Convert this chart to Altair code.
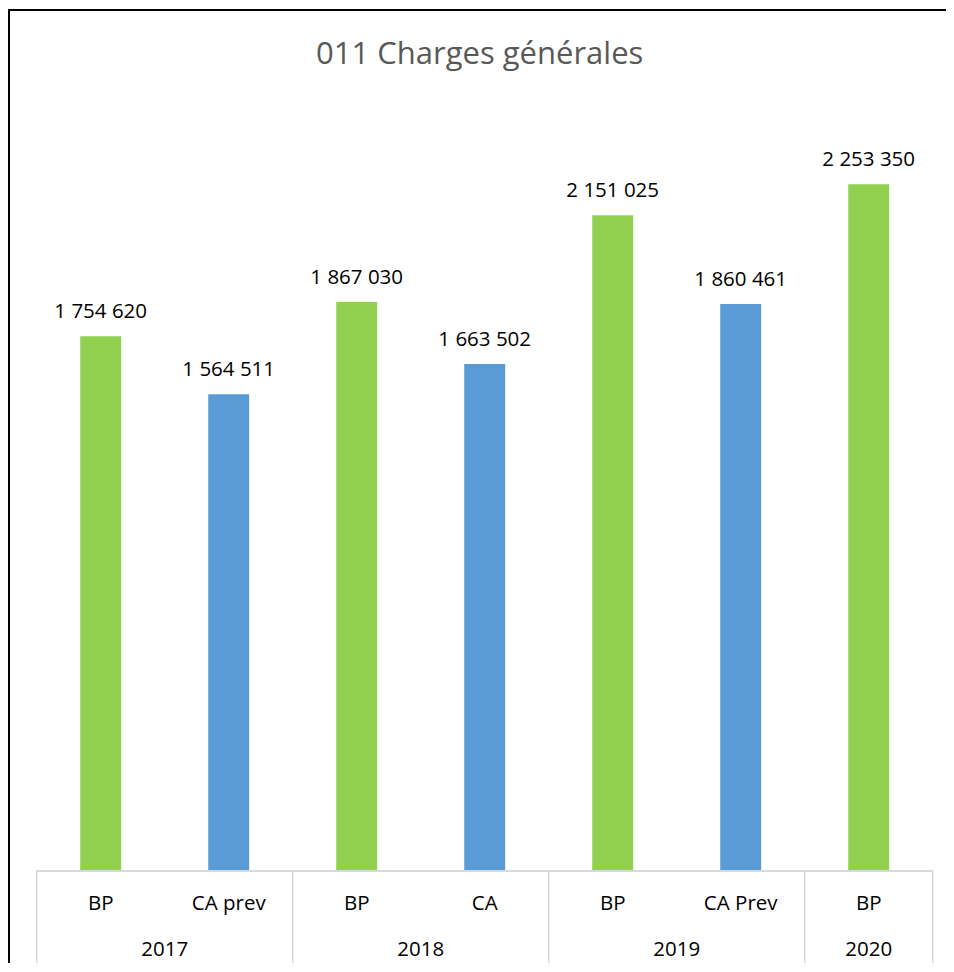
import altair as alt
import pandas as pd

# ---- data ----
categories = ["BP", "CA prev", "BP", "CA", "BP", "CA Prev", "BP"]
years = ["2017", "2017", "2018", "2018", "2019", "2019", "2020"]
kinds = ["BP", "CA", "BP", "CA", "BP", "CA", "BP"]
values = [1754620, 1564511, 1867030, 1663502, 2151025, 1860461, 2253350]
title_text = "011 Charges générales"

n = len(categories)
df = pd.DataFrame({
    "key": [f"k{i}" for i in range(n)],
    "cat": categories,
    "year": years,
    "kind": kinds,
    "value": values,
    "label": [f"{v:,}".replace(",", " ") for v in values],
})

# year groups (start / end index along the category axis)
grp_rows = []
for y in dict.fromkeys(years):
    idx = [i for i, yy in enumerate(years) if yy == y]
    grp_rows.append({"year": y, "start": min(idx), "end": max(idx) + 1,
                     "mid": (min(idx) + max(idx) + 1) / 2})
groups = pd.DataFrame(grp_rows)
dividers = pd.DataFrame({"pos": list(groups["start"]) + [n]})

W, H = 896, 762
FONT = "Open Sans"

band_x = alt.X("key:N", sort=list(df["key"]),
               scale=alt.Scale(paddingInner=0.68, paddingOuter=0.34), axis=None)
lin_x_scale = alt.Scale(domain=[0, n], nice=False, zero=False)
y_enc = alt.Y("value:Q", scale=alt.Scale(domain=[0, 2500000], nice=False), axis=None)

bars = alt.Chart(df).mark_bar().encode(
    x=band_x, y=y_enc,
    color=alt.Color("kind:N", scale=alt.Scale(domain=["BP", "CA"],
                                              range=["#92D050", "#5B9BD5"]),
                    legend=None),
)

vlabels = alt.Chart(df).mark_text(font=FONT, fontSize=20.5, color="#000000",
                                  baseline="alphabetic", dy=-18).encode(
    x=band_x, y=y_enc, text="label:N")

sublabels = alt.Chart(df).mark_text(font=FONT, fontSize=20.5, color="#000000",
                                    baseline="alphabetic").encode(
    x=band_x, y=alt.value(801), text="cat:N")

baseline = alt.Chart(df).mark_rule(color="#D9D9D9", strokeWidth=1.5).encode(
    x=alt.value(0), x2=alt.value(W), y=alt.value(H))

divs = alt.Chart(dividers).mark_rule(color="#D9D9D9", strokeWidth=1.5).encode(
    x=alt.X("pos:Q", scale=lin_x_scale, axis=None),
    y=alt.value(H), y2=alt.value(H + 94))

ylabels = alt.Chart(groups).mark_text(font=FONT, fontSize=20.5, color="#000000",
                                      baseline="alphabetic").encode(
    x=alt.X("mid:Q", scale=lin_x_scale, axis=None),
    y=alt.value(847), text="year:N")

title = alt.Chart(pd.DataFrame({"t": [title_text]})).mark_text(
    font=FONT, fontSize=31, color="#595959", baseline="alphabetic").encode(
    x=alt.value(W / 2 - 5), y=alt.value(-45), text="t:N")

border_left = alt.Chart(df).mark_rule(color="#000000", strokeWidth=2).encode(
    x=alt.value(-27.7), y=alt.value(-100), y2=alt.value(H + 100))
border_top = alt.Chart(df).mark_rule(color="#000000", strokeWidth=2).encode(
    x=alt.value(-28.7), x2=alt.value(W + 20), y=alt.value(-99))

chart = alt.layer(
    bars, vlabels, sublabels, baseline, divs, ylabels, title,
    border_left, border_top,
).resolve_scale(x="independent").properties(
    width=W, height=H,
    autosize=alt.AutoSizeParams(type="none"),
    padding={"left": 28.7, "top": 101, "right": 13.3, "bottom": 92},
    background="#FFFFFF",
).configure_view(stroke=None)

chart.save("out.html", embed_options={"renderer": "svg", "actions": False})
